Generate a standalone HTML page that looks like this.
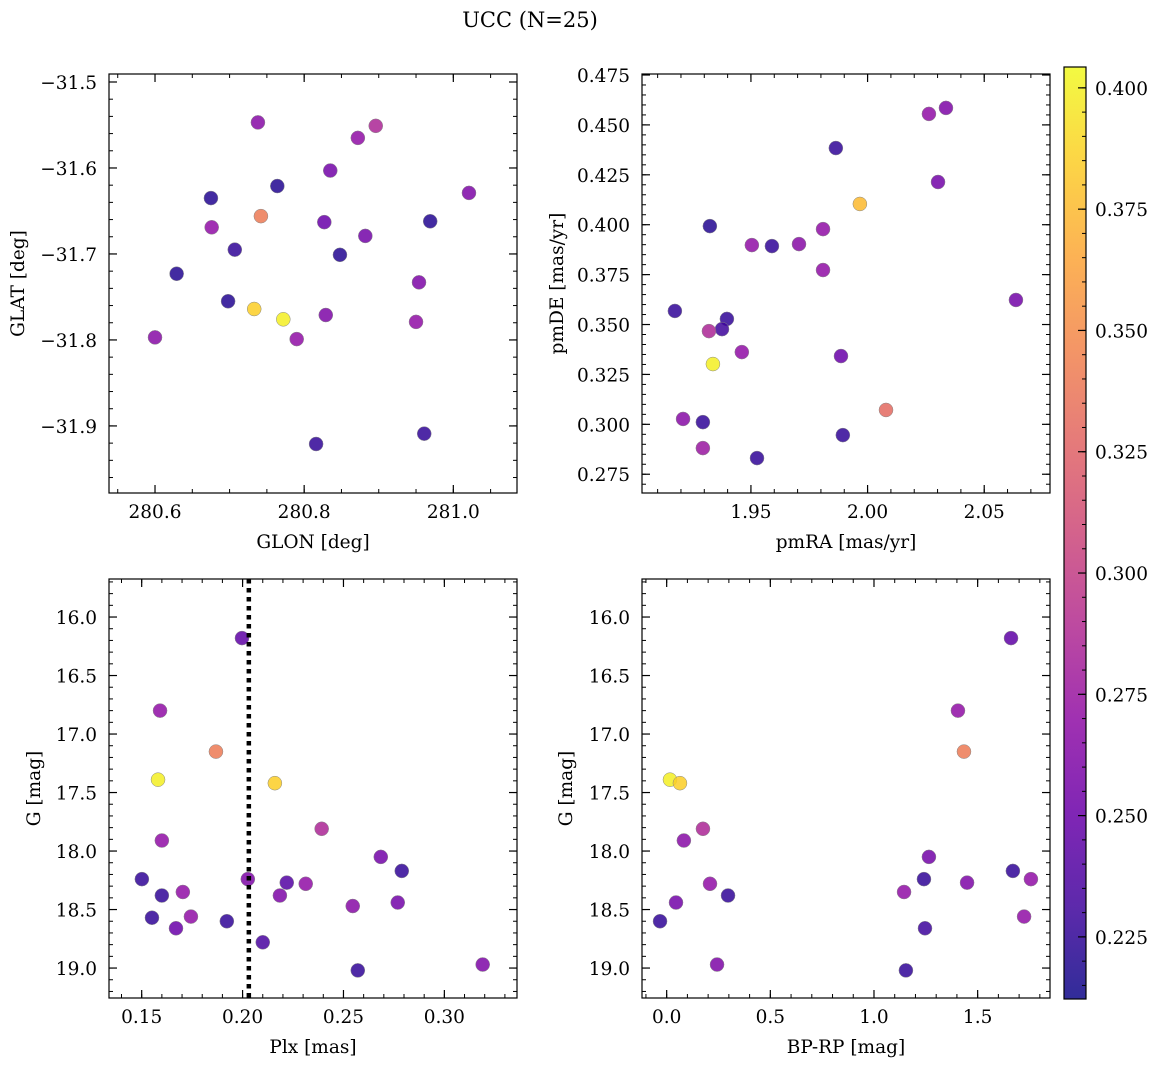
<!DOCTYPE html>
<html><head><meta charset="utf-8">
<style>
html,body{margin:0;padding:0;background:#fff;}
svg{display:block;font-family:"DejaVu Serif","Liberation Serif",serif;}
</style></head>
<body>
<svg id="root" width="1161" height="1067" viewBox="0 0 1161 1067" xmlns="http://www.w3.org/2000/svg">
<defs>
<linearGradient id="cbgrad" x1="0" y1="1" x2="0" y2="0">
<stop offset="0" stop-color="#0d0887"/><stop offset="0.1" stop-color="#41049d"/><stop offset="0.2" stop-color="#6a00a8"/><stop offset="0.3" stop-color="#8f0da4"/><stop offset="0.4" stop-color="#b12a90"/><stop offset="0.5" stop-color="#cc4778"/><stop offset="0.6" stop-color="#e16462"/><stop offset="0.7" stop-color="#f2844b"/><stop offset="0.8" stop-color="#fca636"/><stop offset="0.9" stop-color="#fcce25"/><stop offset="1" stop-color="#f0f921"/>
</linearGradient>
</defs>
<text x="530" y="27" font-size="21" text-anchor="middle">UCC (N=25)</text>
</svg>
<script>
// ---- data ----
const glon = [280.738,280.896,280.872,280.835,281.021,280.675,280.764,280.742,280.827,280.969,280.676,280.707,280.882,280.848,280.629,280.954,280.698,280.733,280.772,280.829,280.950,280.600,280.790,280.816,280.961];
const glat = [-31.547,-31.551,-31.565,-31.603,-31.629,-31.635,-31.621,-31.656,-31.663,-31.662,-31.669,-31.695,-31.679,-31.701,-31.723,-31.733,-31.755,-31.764,-31.776,-31.771,-31.779,-31.797,-31.799,-31.921,-31.909];
const cTL = [0.265,0.285,0.27,0.255,0.26,0.22,0.22,0.34,0.25,0.22,0.27,0.225,0.255,0.22,0.22,0.26,0.22,0.385,0.40,0.26,0.27,0.265,0.27,0.225,0.225];

const pmra = [2.0336,2.0263,1.9864,2.0302,1.9967,1.9324,1.9504,1.9590,1.9706,1.9809,1.9809,2.0636,1.9174,1.9397,1.9376,1.9320,1.9461,1.9886,1.9337,2.0079,1.9209,1.9294,1.9294,1.9894,1.9526];
const pmde = [0.4585,0.4555,0.4384,0.4214,0.4104,0.3993,0.3898,0.3893,0.3903,0.3978,0.3773,0.3623,0.3568,0.3528,0.3477,0.3467,0.3362,0.3342,0.3302,0.3072,0.3027,0.3011,0.2881,0.2946,0.2831];
const cTR = [0.26,0.27,0.225,0.255,0.375,0.22,0.27,0.225,0.265,0.27,0.27,0.255,0.225,0.225,0.23,0.285,0.27,0.25,0.40,0.33,0.265,0.225,0.275,0.225,0.225];

const plx = [0.1997,0.1591,0.1581,0.1868,0.2160,0.1600,0.2392,0.2685,0.2789,0.1501,0.2026,0.1704,0.2219,0.2313,0.2185,0.1551,0.1600,0.1744,0.1922,0.1670,0.2546,0.2769,0.2100,0.2571,0.3190];
const gBL = [16.18,16.80,17.39,17.15,17.42,17.91,17.81,18.05,18.17,18.24,18.24,18.35,18.27,18.28,18.38,18.57,18.38,18.56,18.60,18.66,18.47,18.44,18.78,19.02,18.97];
const cBL = [0.245,0.27,0.40,0.34,0.385,0.27,0.285,0.255,0.225,0.225,0.26,0.27,0.24,0.27,0.26,0.225,0.225,0.27,0.225,0.25,0.265,0.255,0.235,0.225,0.26];
const plxLine = [0.2031];

const bprp = [1.661,1.405,0.016,0.064,1.434,0.083,0.175,1.670,1.757,0.209,0.296,1.241,1.265,1.449,1.145,0.045,1.724,-0.032,1.246,0.243,1.154];
const gBR = [16.18,16.80,17.39,17.42,17.15,17.91,17.81,18.17,18.24,18.28,18.38,18.24,18.05,18.27,18.35,18.44,18.56,18.60,18.66,18.97,19.02];
const cBR = [0.245,0.27,0.40,0.385,0.34,0.265,0.285,0.225,0.27,0.27,0.225,0.225,0.255,0.26,0.27,0.255,0.27,0.225,0.23,0.26,0.225];

const tlXTicks = [280.6,280.8,281.0];
const tlYTicks = [-31.5,-31.6,-31.7,-31.8,-31.9];
const trXTicks = [1.95,2.00,2.05];
const trYTicks = [0.275,0.300,0.325,0.350,0.375,0.400,0.425,0.450,0.475];
const blXTicks = [0.15,0.20,0.25,0.30];
const gTicks = [16.0,16.5,17.0,17.5,18.0,18.5,19.0];
const brXTicks = [0.0,0.5,1.0,1.5];
const cbTicks = [0.225,0.250,0.275,0.300,0.325,0.350,0.375,0.400];
const cMin = 0.2122, cMax = 0.4043;

// ---- helpers ----
const NS = "http://www.w3.org/2000/svg";
const root = document.getElementById('root');
const FS = 18.5;
const plasma = ['#0d0887','#41049d','#6a00a8','#8f0da4','#b12a90','#cc4778','#e16462','#f2844b','#fca636','#fcce25','#f0f921'];
function hex(h){return [1,3,5].map(i=>parseInt(h.substr(i,2),16));}
function cmap(v){
  let t=(v-cMin)/(cMax-cMin); t=Math.max(0,Math.min(1,t));
  const f=t*10, i=Math.min(9,Math.floor(f)), r=f-i;
  const a=hex(plasma[i]), b=hex(plasma[i+1]);
  return 'rgb('+a.map((x,k)=>Math.round(x+(b[k]-x)*r)).join(',')+')';
}
function mk(tag, attrs, parent){
  const e=document.createElementNS(NS,tag);
  for(const k in attrs) e.setAttribute(k,attrs[k]);
  (parent||root).appendChild(e);
  return e;
}
function fmt(v,d){return v.toFixed(d).replace('-','\u2212');}

function panel(o){
  const g=mk('g',{});
  
  
  const L=o.box[0],T=o.box[1],R=o.box[2],B=o.box[3];
  const sx=v=>L+(v-o.xr[0])/(o.xr[1]-o.xr[0])*(R-L);
  const sy=v=>o.yinv ? T+(v-o.yr[0])/(o.yr[1]-o.yr[0])*(B-T) : B-(v-o.yr[0])/(o.yr[1]-o.yr[0])*(B-T);
  for(let i=0;i<o.xs.length;i++){
    const c=mk('circle',{cx:sx(o.xs[i]),cy:sy(o.ys[i]),r:7,fill:cmap(o.cs[i]),'fill-opacity':0.85,stroke:'#888','stroke-width':0.5},g);
    
    
  }
  if(o.vline){
    for(const v of o.vline){
      const l=mk('line',{x1:sx(v),x2:sx(v),y1:T,y2:B,stroke:'#000','stroke-width':4.5,'stroke-dasharray':'4.5,4.5'},g);
      
      
    }
  }
  const fr=mk('rect',{x:L,y:T,width:R-L,height:B-T,fill:'none',stroke:'#000','stroke-width':1.2},g);
  
  
  const xmin=Math.ceil(o.xr[0]/o.xminor-1e-6)*o.xminor;
  for(let v=xmin; v<=o.xr[1]+1e-9; v+=o.xminor){
    const p=sx(v);
    mk('line',{x1:p,x2:p,y1:B,y2:B-4,stroke:'#000','stroke-width':1},g);
    mk('line',{x1:p,x2:p,y1:T,y2:T+4,stroke:'#000','stroke-width':1},g);
  }
  const ymin=Math.ceil(o.yr[0]/o.yminor-1e-6)*o.yminor;
  for(let v=ymin; v<=o.yr[1]+1e-9; v+=o.yminor){
    const p=sy(v);
    mk('line',{y1:p,y2:p,x1:L,x2:L+4,stroke:'#000','stroke-width':1},g);
    mk('line',{y1:p,y2:p,x1:R,x2:R-4,stroke:'#000','stroke-width':1},g);
  }
  for(const v of o.xt){
    const p=sx(v);
    mk('line',{x1:p,x2:p,y1:B,y2:B-8,stroke:'#000','stroke-width':1.2},g);
    mk('line',{x1:p,x2:p,y1:T,y2:T+8,stroke:'#000','stroke-width':1.2},g);
    const t=mk('text',{x:p,y:B+25,'font-size':FS,'text-anchor':'middle'},g);
    t.textContent=fmt(v,o.xd);
    
    
  }
  for(const v of o.yt){
    const p=sy(v);
    mk('line',{y1:p,y2:p,x1:L,x2:L+8,stroke:'#000','stroke-width':1.2},g);
    mk('line',{y1:p,y2:p,x1:R,x2:R-8,stroke:'#000','stroke-width':1.2},g);
    const t=mk('text',{x:L-12,y:p+7,'font-size':FS,'text-anchor':'end'},g);
    t.textContent=fmt(v,o.yd);
    
    
  }
  const xl=mk('text',{x:(L+R)/2,y:B+55,'font-size':FS,'text-anchor':'middle'},g);
  xl.textContent=o.xlabel;
  
  
  const yl=mk('text',{x:0,y:0,'font-size':FS,'text-anchor':'middle',transform:'translate('+o.ylx+','+((T+B)/2)+') rotate(-90)'},g);
  yl.textContent=o.ylabel;
  
  
}

panel({name:'glon-glat-panel',box:[109,74,517,493],xr:[280.5383,281.0854],yr:[-31.978,-31.4907],xs:glon,ys:glat,cs:cTL,
  xt:tlXTicks,yt:tlYTicks,xminor:0.05,yminor:0.02,xd:1,yd:1,xlabel:'GLON [deg]',ylabel:'GLAT [deg]',ylx:24});
panel({name:'pm-panel',box:[642,74,1050,493],xr:[1.9033,2.0782],yr:[0.2656,0.4755],xs:pmra,ys:pmde,cs:cTR,
  xt:trXTicks,yt:trYTicks,xminor:0.01,yminor:0.005,xd:2,yd:3,xlabel:'pmRA [mas/yr]',ylabel:'pmDE [mas/yr]',ylx:563});
panel({name:'plx-g-panel',box:[109,579,517,998],xr:[0.1338,0.3360],yr:[15.675,19.256],yinv:true,xs:plx,ys:gBL,cs:cBL,vline:plxLine,
  xt:blXTicks,yt:gTicks,xminor:0.01,yminor:0.1,xd:2,yd:1,xlabel:'Plx [mas]',ylabel:'G [mag]',ylx:40});
panel({name:'cmd-panel',box:[642,579,1050,998],xr:[-0.119,1.849],yr:[15.675,19.256],yinv:true,xs:bprp,ys:gBR,cs:cBR,
  xt:brXTicks,yt:gTicks,xminor:0.1,yminor:0.1,xd:1,yd:1,xlabel:'BP-RP [mag]',ylabel:'G [mag]',ylx:572});

const cb=mk('g',{});


const CT=67,CB=999,CL=1064,CR=1086;
mk('rect',{x:CL,y:CT,width:CR-CL,height:CB-CT,fill:'url(#cbgrad)','fill-opacity':0.85,stroke:'#000','stroke-width':1.2},cb);
const cy=v=>CB-(v-cMin)/(cMax-cMin)*(CB-CT);
for(let v=Math.ceil(cMin/0.005)*0.005; v<=cMax; v+=0.005){
  mk('line',{x1:CR,x2:CR-4,y1:cy(v),y2:cy(v),stroke:'#000','stroke-width':1},cb);
}
for(const v of cbTicks){
  mk('line',{x1:CR,x2:CR-8,y1:cy(v),y2:cy(v),stroke:'#000','stroke-width':1.2},cb);
  const t=mk('text',{x:CR+9,y:cy(v)+7,'font-size':FS},cb);
  t.textContent=v.toFixed(3);
  
  
}
</script>
</body></html>
